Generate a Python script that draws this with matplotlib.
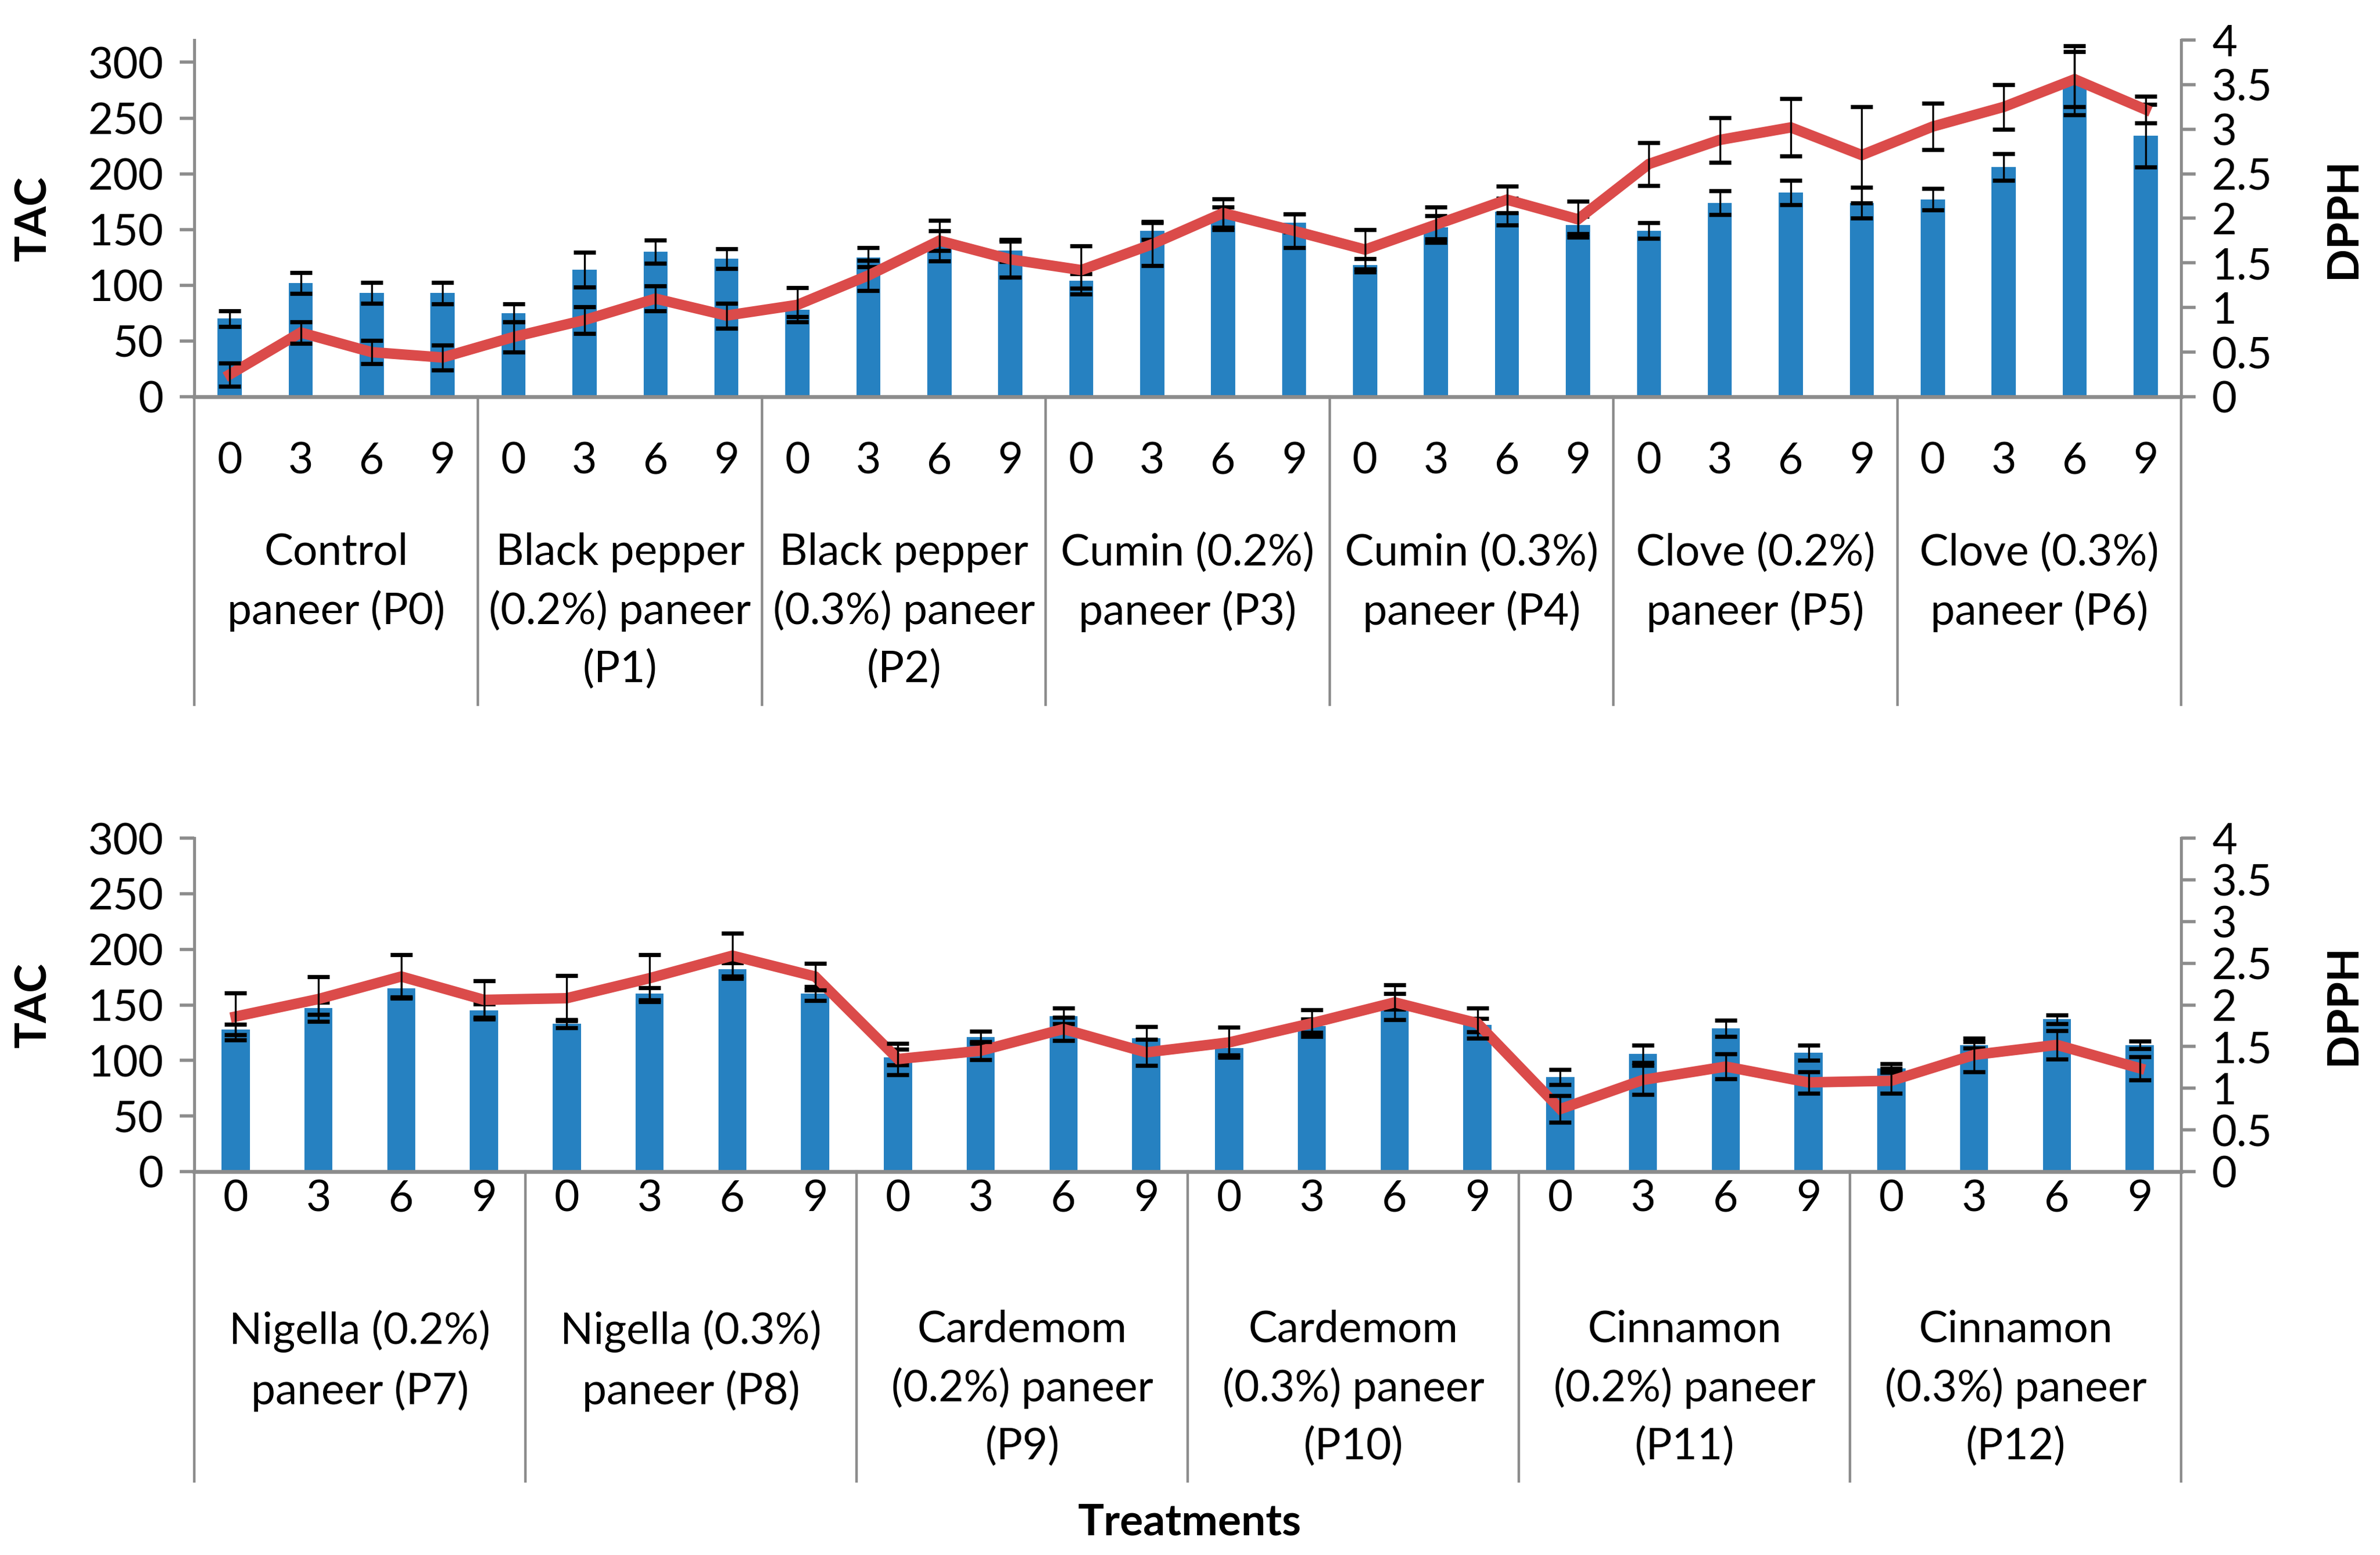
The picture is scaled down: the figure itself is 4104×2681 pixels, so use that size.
import matplotlib
matplotlib.use("Agg")
import matplotlib.pyplot as plt
import matplotlib.transforms as mtrans
from matplotlib.ticker import FuncFormatter

plt.rcParams['font.family'] = ['Lato', 'DejaVu Sans']

# ---------------- data ----------------
days = ["0", "3", "6", "9"]
groups_top = ["Control\npaneer (P0)", "Black pepper\n(0.2%) paneer\n(P1)", "Black pepper\n(0.3%) paneer\n(P2)",
              "Cumin (0.2%)\npaneer (P3)", "Cumin (0.3%)\npaneer (P4)", "Clove (0.2%)\npaneer (P5)",
              "Clove (0.3%)\npaneer (P6)"]
groups_bot = ["Nigella (0.2%)\npaneer (P7)", "Nigella (0.3%)\npaneer (P8)", "Cardemom\n(0.2%) paneer\n(P9)",
              "Cardemom\n(0.3%) paneer\n(P10)", "Cinnamon\n(0.2%) paneer\n(P11)", "Cinnamon\n(0.3%) paneer\n(P12)"]

tac_top = [70, 102, 93, 93, 75, 114, 130, 124, 78, 125, 140, 131, 104, 149, 160, 156,
           118, 152, 166, 154, 149, 174, 183, 174, 177, 206, 284, 234]
tac_top_err = [7, 9.5, 9.3, 9.5, 8, 15.5, 10.4, 8.8, 6, 8.7, 9, 10, 6.5, 8, 10, 8,
               6, 10.6, 12, 8, 6.9, 10.6, 11, 13.7, 9.7, 12, 31, 28]
dpph_top = [0.25, 0.72, 0.50, 0.44, 0.67, 0.86, 1.10, 0.91, 1.03, 1.36, 1.75, 1.54,
            1.42, 1.71, 2.06, 1.86, 1.65, 1.93, 2.21, 1.99, 2.61, 2.88, 3.02, 2.71,
            3.03, 3.25, 3.56, 3.22]
dpph_top_err = [0.13, 0.12, 0.13, 0.14, 0.17, 0.15, 0.14, 0.14, 0.19, 0.17, 0.23, 0.2,
                0.27, 0.24, 0.16, 0.19, 0.22, 0.2, 0.15, 0.2, 0.24, 0.25, 0.32, 0.54,
                0.26, 0.25, 0.31, 0.15]

tac_bot = [128, 147, 165, 145, 133, 160, 182, 160, 103, 121, 140, 120,
           111, 131, 153, 132, 85, 106, 129, 107, 93, 114, 137, 114]
tac_bot_err = [4.7, 5.5, 8, 6, 3.5, 5.6, 6, 6.2, 7, 5.5, 7, 10.5,
               6, 6, 7, 6, 6.8, 7.8, 7.3, 7, 4, 3, 3.7, 3.5]
dpph_bot = [1.86, 2.07, 2.34, 2.06, 2.08, 2.32, 2.59, 2.34, 1.35, 1.45, 1.71, 1.43,
            1.55, 1.78, 2.03, 1.78, 0.75, 1.10, 1.26, 1.07, 1.09, 1.40, 1.52, 1.24]
dpph_bot_err = [0.28, 0.27, 0.26, 0.23, 0.27, 0.28, 0.27, 0.16, 0.19, 0.11, 0.14, 0.155,
                0.18, 0.16, 0.21, 0.18, 0.16, 0.175, 0.15, 0.13, 0.15, 0.2, 0.17, 0.14]

# ---------------- style ----------------
BAR = '#2681c1'
LINE = '#db4b4a'
GRAY = '#8c8c8c'
FS = 27

W, H = 4104, 2681
fig = plt.figure(figsize=(W / 200, H / 200), dpi=200)

def fy(py):
    return 1 - py / H

def fx(px):
    return px / W

def panel(ax_rect, groups, tac, tac_err, dpph, dpph_err, tac_max, num_y, grp_y, sep_bottom):
    ax = fig.add_axes(ax_rect)
    n = len(tac)
    xs = list(range(n))
    ax.bar(xs, tac, width=0.34, color=BAR, zorder=2)
    ax.errorbar(xs, tac, yerr=tac_err, fmt='none', ecolor='black', elinewidth=1.2,
                capsize=7, capthick=2.6, zorder=3)
    ax.set_xlim(-0.5, n - 0.5)
    ax.set_ylim(0, tac_max)
    ax.set_yticks([0, 50, 100, 150, 200, 250, 300])
    ax.set_xticks([])
    for s in ['top', 'right']:
        ax.spines[s].set_visible(False)
    ax.spines['left'].set_color(GRAY)
    ax.spines['left'].set_linewidth(1.8)
    ax.spines['bottom'].set_color(GRAY)
    ax.spines['bottom'].set_linewidth(2.4)
    ax.tick_params(axis='y', direction='out', length=9, width=2, color=GRAY,
                   labelsize=FS, pad=10)

    ax2 = ax.twinx()
    ax2.plot(xs, dpph, color=LINE, lw=6.5, solid_joinstyle='miter', zorder=3)
    ax2.errorbar(xs, dpph, yerr=dpph_err, fmt='none', ecolor='black', elinewidth=1.2,
                 capsize=7, capthick=2.6, zorder=4)
    ax2.set_ylim(0, 4)
    ax2.set_yticks([0, 0.5, 1, 1.5, 2, 2.5, 3, 3.5, 4])
    ax2.yaxis.set_major_formatter(FuncFormatter(lambda v, p: ('%g' % v)))
    for s in ['top', 'left', 'bottom']:
        ax2.spines[s].set_visible(False)
    ax2.spines['right'].set_color(GRAY)
    ax2.spines['right'].set_linewidth(1.8)
    ax2.tick_params(axis='y', direction='out', length=9, width=2, color=GRAY,
                    labelsize=FS, pad=10)

    tr = mtrans.blended_transform_factory(ax.transData, fig.transFigure)
    bottom = ax_rect[1]
    for g in range(len(groups) + 1):
        xb = g * 4 - 0.5
        ax.plot([xb, xb], [bottom, sep_bottom], transform=tr, color=GRAY, lw=1.6,
                clip_on=False)
    for i in range(n):
        ax.text(i, num_y, days[i % 4], transform=tr, ha='center', va='center',
                fontsize=FS)
    for g, lab in enumerate(groups):
        ax.text(g * 4 + 1.5, grp_y, lab, transform=tr, ha='center', va='top',
                fontsize=FS, linespacing=1.52)
    return ax, ax2

left = fx(335)
right = fx(3761)
# top panel
t_bot, t_top = fy(684), fy(69)
ax_t, ax_t2 = panel([left, t_bot, right - left, t_top - t_bot], groups_top, tac_top, tac_top_err,
                    dpph_top, dpph_top_err, 320, fy(795), fy(918), fy(1215))
# bottom panel
b_bot, b_top = fy(2020), fy(1445)
ax_b, ax_b2 = panel([left, b_bot, right - left, b_top - b_bot], groups_bot, tac_bot, tac_bot_err,
                    dpph_bot, dpph_bot_err, 300, fy(2067), fy(2258), fy(2554))

for a in [(t_bot + t_top) / 2, (b_bot + b_top) / 2]:
    fig.text(fx(58), a, "TAC", rotation=90, ha='center', va='center', fontsize=FS,
             fontweight='bold')
    fig.text(fx(4040), a, "DPPH", rotation=90, ha='center', va='center', fontsize=FS,
             fontweight='bold')

fig.text(0.5, fy(2625), "Treatments", ha='center', va='center', fontsize=FS, fontweight='bold')

fig.savefig("out.png", dpi=200, facecolor='white')
